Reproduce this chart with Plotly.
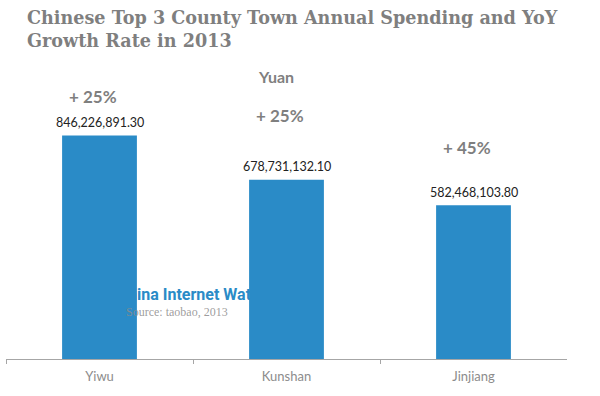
import plotly.graph_objects as go

categories = ["Yiwu", "Kunshan", "Jinjiang"]
spending = [846226891.30, 678731132.10, 582468103.80]
value_labels = ["846,226,891.30", "678,731,132.10", "582,468,103.80"]
growth_labels = ["+ 25%", "+ 25%", "+ 45%"]

title_text = "Chinese Top 3 County Town Annual Spending and YoY<br>Growth Rate in 2013"
unit_text = "Yuan"
watermark_text = "China Internet Watch"
source_text = "Source: taobao, 2013"

BLUE = "#2a8bc7"
GRAY = "#7f7f7f"
SANS = "Lato, 'Noto Sans', sans-serif"

xpos = list(range(len(categories)))

fig = go.Figure()

# watermark on base axes (drawn beneath the bars)
fig.add_trace(go.Scatter(
    x=[0.199], y=[0.211], mode="text", text=[watermark_text],
    textposition="middle right", hoverinfo="skip", showlegend=False,
    textfont=dict(family="'Liberation Sans Narrow', 'Roboto', sans-serif", size=16,
                  color=BLUE, weight="bold"),
    xaxis="x", yaxis="y",
))

# bars on overlaying axes
fig.add_trace(go.Bar(
    x=xpos, y=spending, width=0.4, marker=dict(color=BLUE, line=dict(width=0)),
    xaxis="x2", yaxis="y2", showlegend=False, hoverinfo="skip",
))

annotations = []
for i, (v, lab) in enumerate(zip(spending, value_labels)):
    annotations.append(dict(
        x=xpos[i], y=v, xref="x2", yref="y2", text=lab, showarrow=False,
        yanchor="middle", yshift=13, font=dict(family=SANS, size=12.5, color="#222222"),
    ))
growth_shift = [39, 64, 58]
for i, (v, g) in enumerate(zip(spending, growth_labels)):
    annotations.append(dict(
        x=xpos[i], y=v, xref="x2", yref="y2", text=g, showarrow=False,
        yanchor="middle", yshift=growth_shift[i], xshift=-7,
        font=dict(family=SANS, size=17, color=GRAY, weight="bold"),
    ))
annotations.append(dict(
    x=0.481, y=0.946, xref="paper", yref="paper", text=unit_text, showarrow=False,
    xanchor="center", yanchor="middle",
    font=dict(family=SANS, size=16, color=GRAY, weight="bold"),
))
annotations.append(dict(
    x=(25 - 6) / 561, y=1.184, xref="paper", yref="paper", text=title_text,
    showarrow=False, xanchor="left", yanchor="top", align="left",
    font=dict(family="'DejaVu Serif', serif", size=17.6, color=GRAY, weight="bold"),
))
annotations.append(dict(
    x=(124 - 6) / 561, y=0.157, xref="paper", yref="paper", text=source_text,
    showarrow=False, xanchor="left", yanchor="middle",
    font=dict(family="'Liberation Serif', serif", size=12, color="rgba(140,140,140,0.85)"),
))

fig.update_layout(
    width=600, height=396,
    margin=dict(l=6, r=33, t=60, b=37),
    paper_bgcolor="white", plot_bgcolor="rgba(0,0,0,0)",
    xaxis=dict(range=[0, 1], visible=False, fixedrange=True),
    yaxis=dict(range=[0, 1], visible=False, fixedrange=True),
    xaxis2=dict(
        overlaying="x", range=[-0.5, 2.5], tickvals=xpos, ticktext=categories,
        ticks="", showgrid=False, zeroline=False,
        showline=True, linecolor="#a6a6a6", linewidth=1,
        tickfont=dict(family=SANS, size=13, color="#8c8c8c"),
        ticklabelstandoff=5,
        minor=dict(tickmode="array", tickvals=[-0.5, 0.5, 1.5], ticks="outside",
                   ticklen=4, tickcolor="#a6a6a6", tickwidth=1, showgrid=False),
        side="bottom",
    ),
    yaxis2=dict(overlaying="y", range=[0, 1.1326e9], visible=False, showgrid=False,
                zeroline=False),
    annotations=annotations,
)

fig.write_html("out.html", config={"displayModeBar": False},
               post_script="document.body.style.margin='0';")
